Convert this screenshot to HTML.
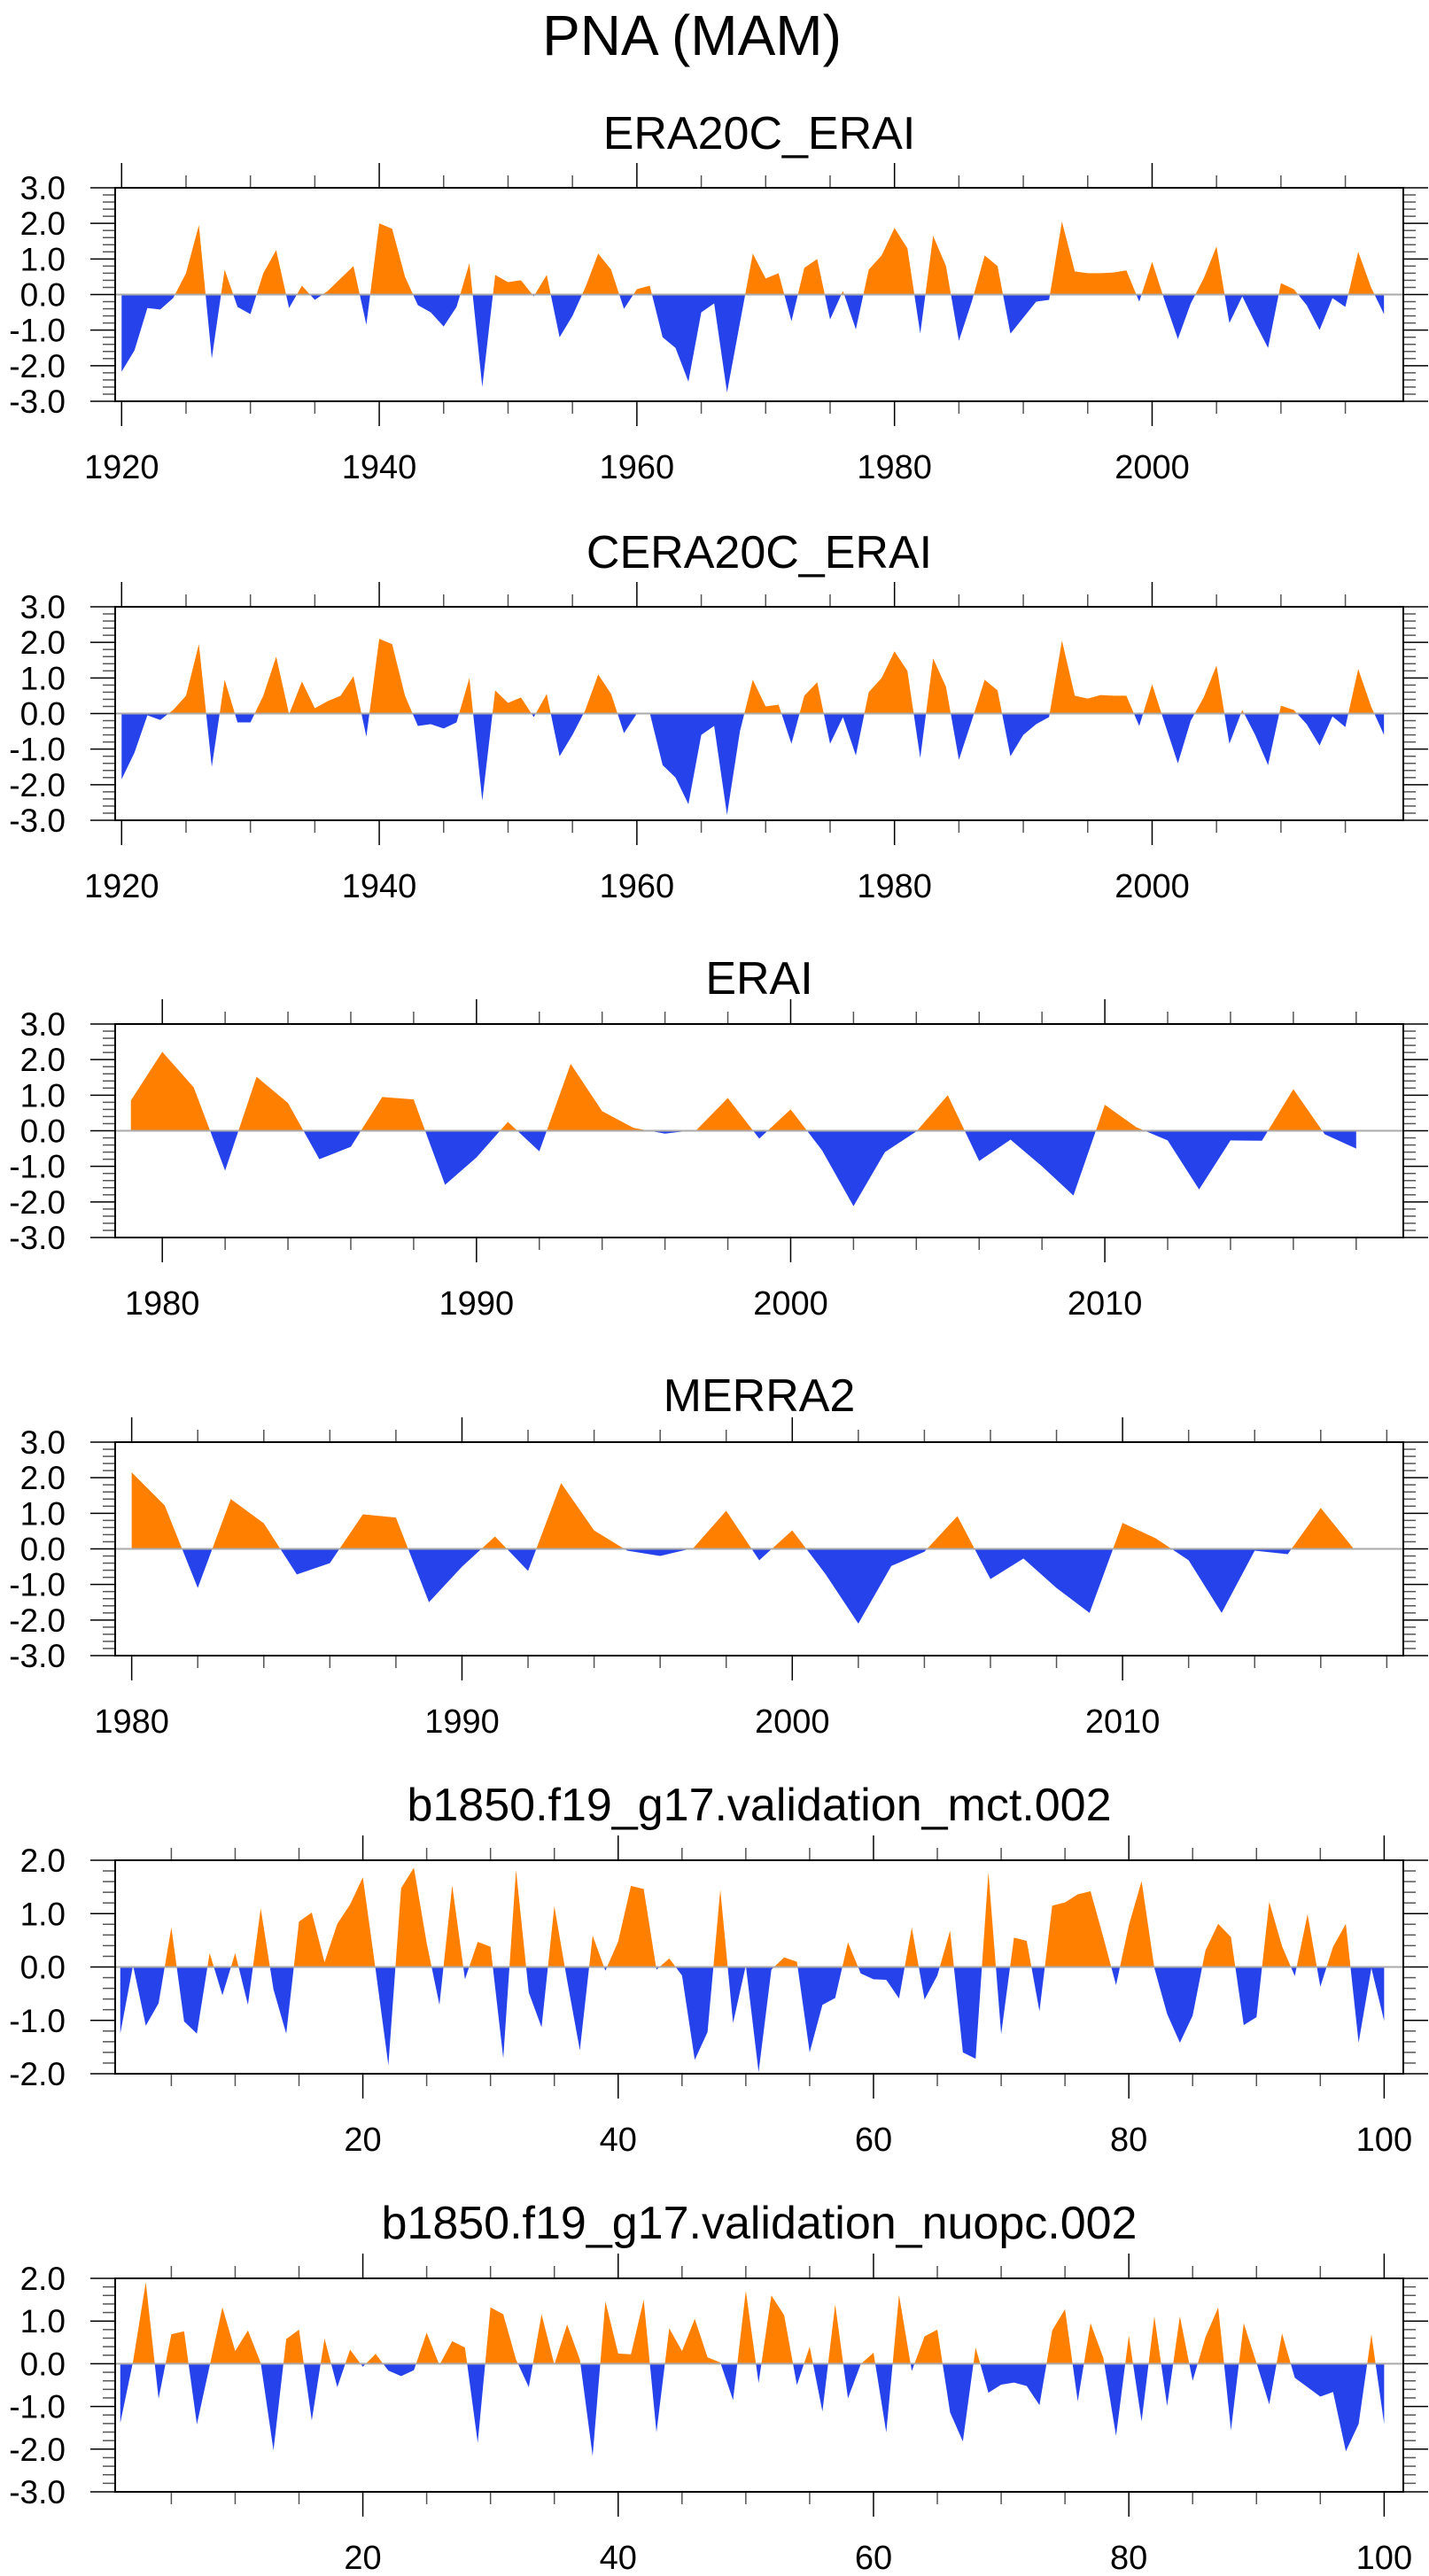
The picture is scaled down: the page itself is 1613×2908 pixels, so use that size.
<!DOCTYPE html>
<html><head><meta charset="utf-8"><title>PNA (MAM)</title>
<style>
html,body{margin:0;padding:0;background:#fff;}
svg{display:block;}
text{font-family:"Liberation Sans",sans-serif;fill:#000;}
</style></head>
<body>
<svg id="chart" width="1613" height="2908" viewBox="0 0 1613 2908" xmlns="http://www.w3.org/2000/svg">
<text x="781" y="62" font-size="64" text-anchor="middle">PNA (MAM)</text>
</svg>
<script>
// ---- data ----
const era20cStart = 1920;
const era20cValues = [-2.17,-1.57,-0.38,-0.42,-0.1,0.6,1.95,-1.8,0.7,-0.35,-0.55,0.6,1.25,-0.38,0.25,-0.15,0.1,0.45,0.8,-0.85,
 2.0,1.85,0.5,-0.3,-0.5,-0.9,-0.35,0.88,-2.6,0.55,0.35,0.4,-0.05,0.55,-1.2,-0.6,0.2,1.15,0.7,-0.4,
 0.15,0.25,-1.2,-1.5,-2.45,-0.5,-0.25,-2.75,-0.8,1.15,0.45,0.6,-0.75,0.75,1.0,-0.7,0.1,-0.98,0.7,1.1,
 1.87,1.3,-1.1,1.65,0.8,-1.3,-0.2,1.1,0.8,-1.1,-0.65,-0.2,-0.15,2.05,0.65,0.6,0.6,0.62,0.68,-0.2,
 0.92,-0.2,-1.25,-0.25,0.45,1.35,-0.8,-0.05,-0.8,-1.5,0.32,0.15,-0.3,-1.0,-0.1,-0.35,1.2,0.2,-0.55];
const cera20cStart = 1920;
const cera20cValues = [-1.85,-1.1,-0.05,-0.18,0.1,0.5,1.95,-1.5,0.95,-0.25,-0.25,0.5,1.6,-0.02,0.9,0.15,0.35,0.5,1.05,-0.65,
 2.1,1.95,0.5,-0.35,-0.3,-0.42,-0.25,1.0,-2.45,0.65,0.3,0.45,-0.1,0.55,-1.2,-0.6,0.1,1.1,0.55,-0.55,
 0.0,0.02,-1.45,-1.8,-2.55,-0.6,-0.35,-2.85,-0.5,0.95,0.2,0.25,-0.85,0.5,0.88,-0.85,-0.1,-1.18,0.6,1.0,
 1.75,1.2,-1.25,1.55,0.75,-1.3,-0.2,0.95,0.65,-1.2,-0.6,-0.3,-0.1,2.05,0.5,0.42,0.52,0.5,0.5,-0.35,
 0.82,-0.3,-1.4,-0.2,0.45,1.35,-0.85,0.1,-0.6,-1.45,0.22,0.1,-0.3,-0.9,-0.08,-0.38,1.25,0.2,-0.6];
const eraiStart = 1979;
const eraiValues = [0.85,2.22,1.22,-1.12,1.52,0.78,-0.8,-0.45,0.95,0.88,-1.52,-0.75,0.25,-0.58,1.88,0.55,0.08,-0.08,0.02,0.92,
 -0.22,0.6,-0.55,-2.12,-0.6,-0.02,1.0,-0.85,-0.25,-1.0,-1.82,0.73,0.1,-0.27,-1.65,-0.27,-0.28,1.17,-0.1,-0.5];
const merra2Start = 1980;
const merra2Values = [2.15,1.22,-1.1,1.4,0.72,-0.72,-0.4,0.97,0.88,-1.5,-0.5,0.35,-0.62,1.85,0.52,-0.05,-0.2,0.02,1.07,-0.32,
 0.52,-0.7,-2.1,-0.48,-0.08,0.92,-0.85,-0.27,-1.1,-1.8,0.73,0.3,-0.32,-1.8,-0.05,-0.15,1.15,0.0];
const mctStart = 1;
const mctValues = [-1.25,0.03,-1.1,-0.68,0.74,-1.02,-1.25,0.26,-0.53,0.26,-0.71,1.1,-0.42,-1.25,0.85,1.02,0.09,0.81,1.17,1.68,
 -0.05,-1.84,1.48,1.86,0.45,-0.71,1.53,-0.23,0.47,0.38,-1.71,1.82,-0.48,-1.13,1.14,-0.25,-1.56,0.59,-0.07,0.48,
 1.52,1.46,-0.05,0.16,-0.16,-1.74,-1.22,1.45,-1.05,0.03,-1.97,-0.05,0.18,0.1,-1.6,-0.71,-0.58,0.46,-0.12,-0.23,
 -0.24,-0.59,0.74,-0.61,-0.16,0.68,-1.6,-1.72,1.78,-1.26,0.55,0.49,-0.83,1.15,1.21,1.36,1.42,0.56,-0.34,0.78,
 1.61,-0.02,-0.88,-1.42,-0.91,0.31,0.81,0.56,-1.09,-0.94,1.22,0.39,-0.17,0.99,-0.37,0.38,0.81,-1.42,-0.02,-1.01];
const nuopcStart = 1;
const nuopcValues = [-1.39,0.05,1.91,-0.82,0.69,0.76,-1.42,-0.05,1.32,0.3,0.78,0.02,-2.03,0.58,0.8,-1.33,0.59,-0.55,0.33,-0.07,
 0.23,-0.16,-0.29,-0.15,0.73,-0.03,0.53,0.38,-1.85,1.32,1.16,0.1,-0.55,1.16,-0.02,0.92,0.1,-2.16,1.46,0.24,
 0.22,1.5,-1.61,0.83,0.3,1.05,0.15,0.03,-0.85,1.71,-0.45,1.6,1.14,-0.5,0.4,-1.12,1.39,-0.81,-0.01,0.26,
 -1.61,1.61,-0.17,0.64,0.8,-1.14,-1.82,0.38,-0.68,-0.49,-0.44,-0.52,-0.97,0.78,1.28,-0.88,0.95,0.14,-1.69,0.66,
 -1.35,1.11,-0.99,1.11,-0.4,0.62,1.32,-1.56,0.95,0.02,-0.95,0.71,-0.33,-0.55,-0.77,-0.66,-2.05,-1.41,0.69,-1.41];
const yTicks3 = ["3.0","2.0","1.0","0.0","-1.0","-2.0","-3.0"];
const yTicks2 = ["2.0","1.0","0.0","-1.0","-2.0"];
const yTicks23 = ["2.0","1.0","0.0","-1.0","-2.0","-3.0"];
const xLabelsLong = ["1920","1940","1960","1980","2000"];
const xLabelsShort = ["1980","1990","2000","2010"];
const xLabelsModel = ["20","40","60","80","100"];

// ---- layout ----
const NS = "http://www.w3.org/2000/svg";
const svg = document.getElementById("chart");
const L = 130, R = 1584, H = 241;
const panels = [
 {name:"era20c-erai", title:"ERA20C_ERAI", top:212, tgap:44, start:era20cStart, vals:era20cValues, ymin:-3, ymax:3, yl:yTicks3, xl:xLabelsLong, maj:20, min:5},
 {name:"cera20c-erai", title:"CERA20C_ERAI", top:685, tgap:44, start:cera20cStart, vals:cera20cValues, ymin:-3, ymax:3, yl:yTicks3, xl:xLabelsLong, maj:20, min:5},
 {name:"erai", title:"ERAI", top:1156, tgap:34, start:eraiStart, vals:eraiValues, ymin:-3, ymax:3, yl:yTicks3, xl:xLabelsShort, maj:10, min:2},
 {name:"merra2", title:"MERRA2", top:1628, tgap:35, start:merra2Start, vals:merra2Values, ymin:-3, ymax:3, yl:yTicks3, xl:xLabelsShort, maj:10, min:2},
 {name:"mct", title:"b1850.f19_g17.validation_mct.002", top:2100, tgap:45, start:mctStart, vals:mctValues, ymin:-2, ymax:2, yl:yTicks2, xl:xLabelsModel, maj:20, min:5, x0:0.6},
 {name:"nuopc", title:"b1850.f19_g17.validation_nuopc.002", top:2572, tgap:45, start:nuopcStart, vals:nuopcValues, ymin:-3, ymax:2, yl:yTicks23, xl:xLabelsModel, maj:20, min:5, x0:0.6}
];
function mk(tag, attrs, parent){
  const e = document.createElementNS(NS, tag);
  for (const k in attrs) e.setAttribute(k, attrs[k]);
  parent.appendChild(e);
  return e;
}
panels.forEach((p, pi) => {
  const g = mk("g", {}, svg);
  
  
  const n = p.vals.length;
  const xmin = (p.x0 !== undefined) ? p.x0 : p.start - 0.5;
  const xmax = p.start + n - 1 + 1.5;
  const top = p.top, bot = p.top + H;
  const xs = v => L + (v - xmin) / (xmax - xmin) * (R - L);
  const ys = v => top + (p.ymax - v) / (p.ymax - p.ymin) * H;
  const y0 = ys(0);

  const t = mk("text", {x:(L+R)/2, y:top - p.tgap, "font-size":52, "text-anchor":"middle"}, g);
  t.textContent = p.title;
  
  

  const cid = "c" + pi;
  const defs = mk("defs", {}, g);
  const cpA = mk("clipPath", {id:cid+"a"}, defs);
  mk("rect", {x:L, y:top, width:R-L, height:y0-top}, cpA);
  const cpB = mk("clipPath", {id:cid+"b"}, defs);
  mk("rect", {x:L, y:y0, width:R-L, height:bot-y0}, cpB);

  let pts = [];
  p.vals.forEach((v, i) => pts.push(xs(p.start + i).toFixed(2) + "," + ys(v).toFixed(2)));
  const poly = xs(p.start).toFixed(2) + "," + y0 + " " + pts.join(" ") + " " + xs(p.start + n - 1).toFixed(2) + "," + y0;
  const pa = mk("polygon", {points:poly, fill:"#ff8000", "clip-path":"url(#"+cid+"a)"}, g);
  
  
  const pb = mk("polygon", {points:poly, fill:"#2643eb", "clip-path":"url(#"+cid+"b)"}, g);
  
  

  const zl = mk("line", {x1:L, x2:R, y1:y0, y2:y0, stroke:"#aaaaaa", "stroke-width":2}, g);
  
  

  for (let k = 0; k <= Math.round((p.ymax - p.ymin) / 0.2); k++) {
    const v = p.ymin + k * 0.2;
    const y = ys(v);
    const major = Math.abs(v - Math.round(v)) < 1e-6;
    const len = major ? 28 : 14;
    mk("line", {x1:L-len, x2:L, y1:y, y2:y, stroke:major?"#000":"#555", "stroke-width":1.5}, g);
    mk("line", {x1:R, x2:R+len, y1:y, y2:y, stroke:major?"#000":"#555", "stroke-width":1.5}, g);
  }
  p.yl.forEach(s => {
    const v = parseFloat(s);
    const tx = mk("text", {x:74, y:ys(v) + 13, "font-size":37, "text-anchor":"end"}, g);
    tx.textContent = s;
    
    
  });

  const first = Math.ceil(xmin / p.min) * p.min;
  for (let v = first; v <= xmax; v += p.min) {
    const x = xs(v);
    const major = v % p.maj === 0;
    const len = major ? 28 : 14;
    mk("line", {x1:x, x2:x, y1:top-len, y2:top, stroke:major?"#000":"#555", "stroke-width":1.5}, g);
    mk("line", {x1:x, x2:x, y1:bot, y2:bot+len, stroke:major?"#000":"#555", "stroke-width":1.5}, g);
  }
  p.xl.forEach(s => {
    const tx = mk("text", {x:xs(parseFloat(s)), y:bot + 87, "font-size":38, "text-anchor":"middle"}, g);
    tx.textContent = s;
    
    
  });

  const fr = mk("rect", {x:L, y:top, width:R-L, height:H, fill:"none", stroke:"#000", "stroke-width":2}, g);
  
  
});
</script>
</body></html>
